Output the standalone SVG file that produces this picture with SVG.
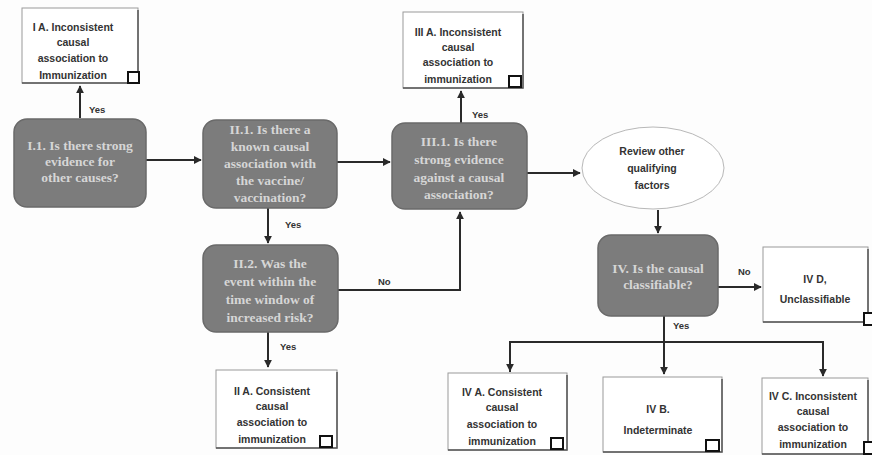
<svg xmlns="http://www.w3.org/2000/svg" width="872" height="455" viewBox="0 0 872 455">
<defs>
<marker id="ah" viewBox="0 0 10 10" refX="9" refY="5" markerWidth="4" markerHeight="4" orient="auto-start-reverse" markerUnits="strokeWidth">
<path d="M0,0 L10,5 L0,10 z" fill="#2a2a2a"/>
</marker>
<filter id="blur" x="-5%" y="-5%" width="110%" height="110%"><feGaussianBlur stdDeviation="0.6"/></filter>
</defs>
<style>
.dk{fill:#7c7c7c;stroke:#6a6a6a;stroke-width:1.5}
.dt{font-family:"Liberation Serif",serif;font-size:13.5px;font-weight:bold;fill:#d6d6d6;text-anchor:middle}
.wb{fill:#fff;stroke:#9a9a9a;stroke-width:1}
.sh{fill:none;stroke:#555;stroke-width:1.5}
.wt{font-family:"Liberation Sans",Arial,sans-serif;font-size:10.5px;font-weight:bold;fill:#333;text-anchor:middle}
.cb{fill:#fff;stroke:#111;stroke-width:2}
.ln{fill:none;stroke:#2a2a2a;stroke-width:2}
.ar{fill:none;stroke:#2a2a2a;stroke-width:2;marker-end:url(#ah)}
.lb{font-family:"Liberation Sans",Arial,sans-serif;font-size:9.5px;font-weight:bold;fill:#333}
</style>
<rect width="872" height="455" fill="#fdfdfd"/>

<g id="connectors">
<line class="ar" x1="80" y1="118" x2="80" y2="86"/>
<text class="lb" x="89" y="113">Yes</text>
<line class="ar" x1="146" y1="160" x2="201" y2="160"/>
<line class="ar" x1="337" y1="162" x2="390" y2="162"/>
<line class="ar" x1="268" y1="208" x2="268" y2="243"/>
<text class="lb" x="285" y="228">Yes</text>
<polyline class="ar" points="338,290 460,290 460,212"/>
<text class="lb" x="378" y="285">No</text>
<line class="ar" x1="268" y1="332" x2="268" y2="367"/>
<text class="lb" x="280" y="350">Yes</text>
<line class="ar" x1="461" y1="123" x2="461" y2="91"/>
<text class="lb" x="472" y="118">Yes</text>
<line class="ar" x1="527" y1="173" x2="580" y2="173"/>
<line class="ar" x1="658" y1="210" x2="658" y2="233"/>
<line class="ar" x1="718" y1="287" x2="761" y2="287"/>
<text class="lb" x="738" y="275">No</text>
<line class="ar" x1="664" y1="316" x2="664" y2="374"/>
<text class="lb" x="673" y="329">Yes</text>
<polyline class="ln" points="510,372 510,342 823,342 823,375"/>
<line class="ar" x1="510" y1="343" x2="510" y2="371"/>
<line class="ar" x1="823" y1="343" x2="823" y2="376"/>
</g>

<g id="n_I1">
<rect class="dk" x="14" y="119" width="132" height="88" rx="13" filter="url(#blur)"/>
<text class="dt" x="80" y="150">I.1. Is there strong</text>
<text class="dt" x="80" y="166">evidence for</text>
<text class="dt" x="80" y="182">other causes?</text>
</g>

<g id="n_II1">
<rect class="dk" x="203" y="120" width="134" height="88" rx="13" filter="url(#blur)"/>
<text class="dt" x="270" y="134">II.1. Is there a</text>
<text class="dt" x="270" y="151">known causal</text>
<text class="dt" x="270" y="168">association with</text>
<text class="dt" x="270" y="185">the vaccine/</text>
<text class="dt" x="270" y="202">vaccination?</text>
</g>

<g id="n_II2">
<rect class="dk" x="203" y="245" width="135" height="87" rx="13" filter="url(#blur)"/>
<text class="dt" x="270" y="268">II.2. Was the</text>
<text class="dt" x="270" y="286">event within the</text>
<text class="dt" x="270" y="304">time window of</text>
<text class="dt" x="270" y="322">increased risk?</text>
</g>

<g id="n_III1">
<rect class="dk" x="392" y="123" width="135" height="86" rx="13" filter="url(#blur)"/>
<text class="dt" x="459" y="146">III.1. Is there</text>
<text class="dt" x="459" y="164">strong evidence</text>
<text class="dt" x="459" y="182">against a causal</text>
<text class="dt" x="459" y="199">association?</text>
</g>

<g id="n_IV">
<rect class="dk" x="598" y="235" width="120" height="81" rx="13" filter="url(#blur)"/>
<text class="dt" x="658" y="273">IV. Is the causal</text>
<text class="dt" x="658" y="289">classifiable?</text>
</g>

<g id="n_review">
<ellipse cx="653" cy="168" rx="71" ry="41" fill="#fff" stroke="#b8b8b8" stroke-width="1"/>
<text class="wt" x="652" y="155">Review other</text>
<text class="wt" x="652" y="172">qualifying</text>
<text class="wt" x="652" y="189">factors</text>
</g>

<g id="n_IA">
<rect class="wb" x="22" y="8" width="116" height="75"/>
<polyline class="sh" points="138,10 138,83 22,83"/>
<text class="wt" x="73" y="31">I A. Inconsistent</text>
<text class="wt" x="73" y="46">causal</text>
<text class="wt" x="73" y="62">association to</text>
<text class="wt" x="73" y="79">Immunization</text>
<rect class="cb" x="128" y="72" width="11" height="11"/>
</g>

<g id="n_IIIA">
<rect class="wb" x="403" y="12" width="120" height="76"/>
<polyline class="sh" points="523,14 523,88 403,88"/>
<text class="wt" x="458" y="36">III A. Inconsistent</text>
<text class="wt" x="458" y="51">causal</text>
<text class="wt" x="458" y="66">association to</text>
<text class="wt" x="458" y="83">immunization</text>
<rect class="cb" x="509" y="76" width="12" height="11"/>
</g>

<g id="n_IIA">
<rect class="wb" x="216" y="370" width="121" height="78"/>
<polyline class="sh" points="337,372 337,448 216,448"/>
<text class="wt" x="272" y="395">II A. Consistent</text>
<text class="wt" x="272" y="410">causal</text>
<text class="wt" x="272" y="426">association to</text>
<text class="wt" x="272" y="443">immunization</text>
<rect class="cb" x="320" y="436" width="12" height="11"/>
</g>

<g id="n_IVA">
<rect class="wb" x="448" y="373" width="119" height="77"/>
<polyline class="sh" points="567,375 567,450 448,450"/>
<text class="wt" x="502" y="396">IV A. Consistent</text>
<text class="wt" x="502" y="411">causal</text>
<text class="wt" x="502" y="428">association to</text>
<text class="wt" x="502" y="445">immunization</text>
<rect class="cb" x="551" y="438" width="12" height="11"/>
</g>

<g id="n_IVB">
<rect class="wb" x="603" y="377" width="119" height="75"/>
<polyline class="sh" points="722,379 722,452 603,452"/>
<text class="wt" x="658" y="413">IV B.</text>
<text class="wt" x="658" y="434">Indeterminate</text>
<rect class="cb" x="706" y="440" width="13" height="11"/>
</g>

<g id="n_IVC">
<rect class="wb" x="762" y="378" width="106" height="76"/>
<polyline class="sh" points="868,380 868,454 762,454"/>
<text class="wt" x="813" y="400">IV C. Inconsistent</text>
<text class="wt" x="813" y="415">causal</text>
<text class="wt" x="813" y="431">association to</text>
<text class="wt" x="813" y="448">immunization</text>
<rect class="cb" x="864" y="442" width="10" height="12"/>
</g>

<g id="n_IVD">
<rect class="wb" x="763" y="247" width="105" height="75"/>
<polyline class="sh" points="868,249 868,322 763,322"/>
<text class="wt" x="815" y="283">IV D,</text>
<text class="wt" x="815" y="303">Unclassifiable</text>
<rect class="cb" x="864" y="313" width="10" height="12"/>
</g>
</svg>
